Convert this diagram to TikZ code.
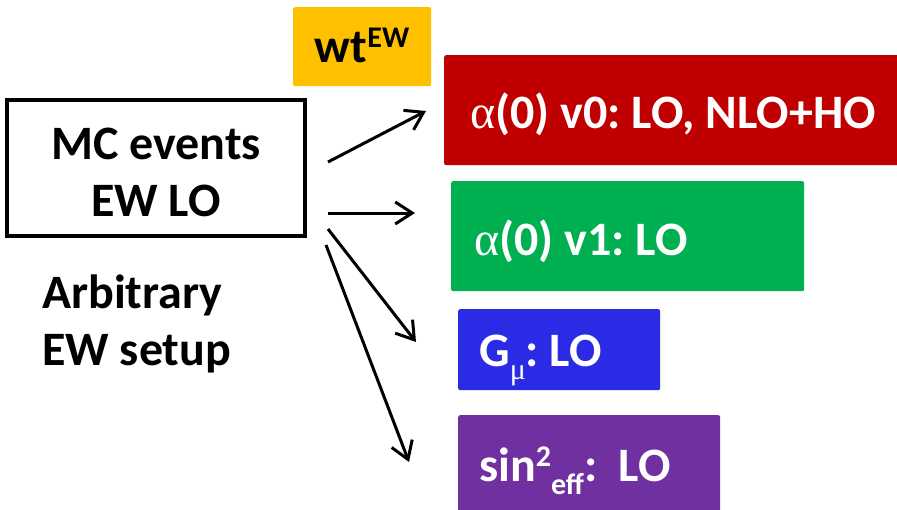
\documentclass[tikz,border=0pt]{standalone}
\usepackage{fontspec}
\setmainfont{Carlito}
\newfontfamily\greekfont{Liberation Serif}
\usetikzlibrary{arrows.meta}

\definecolor{wtyellow}{HTML}{FFC000}
\definecolor{vzero}{HTML}{C00000}
\definecolor{vone}{HTML}{00B050}
\definecolor{gmu}{HTML}{2B2BE6}
\definecolor{sineff}{HTML}{7030A0}

% raised / lowered small indices in the running font
\newcommand\hiidx[1]{\raisebox{15pt}{\fontsize{30}{30}\selectfont #1}}
\newcommand\loidx[1]{\raisebox{-13pt}{\fontsize{30}{30}\selectfont #1}}
\newcommand\gr[1]{{\greekfont\mdseries #1}}

\tikzset{
  box/.style={draw=none, rounded corners=2pt, inner sep=0pt, anchor=north west},
  boxtext/.style={anchor=base west, inner sep=0pt, text=white},
  flow/.style={line width=3pt, -{Straight Barb[length=17pt,width=22pt,line width=3pt]}},
}

\begin{document}
\frenchspacing
\begin{tikzpicture}[x=1pt, y=-1pt, font=\fontsize{48}{50}\selectfont\bfseries]
\useasboundingbox (0,0) rectangle (897,509);
\fill[white] (0,0) rectangle (897,509);

% weight tag
\node[box, fill=wtyellow, minimum width=138pt, minimum height=79pt] (wt) at (293,7) {};
\node[anchor=base, inner sep=0pt] (wtt) at (362,62) {wt\hiidx{EW}};

% input box
\node[draw, line width=4pt, minimum width=298pt, minimum height=136pt, inner sep=0pt] (mc) at (156,168) {};
\node[align=center, inner sep=0pt, font=\fontsize{48}{57}\selectfont\bfseries] (mct) at (156,172) {MC events\\EW LO};

\node[anchor=base west, align=left, inner sep=0pt, font=\fontsize{48}{57}\selectfont\bfseries] (setup) at (42,365) {Arbitrary\\EW setup};

% output schemes
\node[box, fill=vzero, minimum width=460pt, minimum height=110pt] (v0) at (444,55) {};
\node[boxtext] (v0t) at (470,128) {\gr{α}(0) v0: LO, NLO+HO};

\node[box, fill=vone, minimum width=353pt, minimum height=110pt] (v1) at (451,181) {};
\node[boxtext] (v1t) at (474,255) {\gr{α}(0) v1: LO};

\node[box, fill=gmu, minimum width=202pt, minimum height=81pt] (gm) at (458,309) {};
\node[boxtext] (gmt) at (479,366) {G\loidx{\gr{μ}}: LO};

\node[box, fill=sineff, minimum width=262pt, minimum height=100pt] (sw) at (458,415) {};
\node[boxtext] (swt) at (479,481) {sin\hiidx{2}\loidx{eff}:\ \ LO};

% connectors
\coordinate (s1) at (328,162);
\coordinate (s2) at (328,213);
\coordinate (s3) at (328,229);
\coordinate (s4) at (326,245);
\coordinate (e1) at (426,111);
\coordinate (e2) at (415,213);
\coordinate (e3) at (416,342);
\coordinate (e4) at (409,462);
\draw[flow] (s1) -- (e1);
\draw[flow] (s2) -- (e2);
\draw[flow] (s3) -- (e3);
\draw[flow] (s4) -- (e4);
\end{tikzpicture}
\end{document}
